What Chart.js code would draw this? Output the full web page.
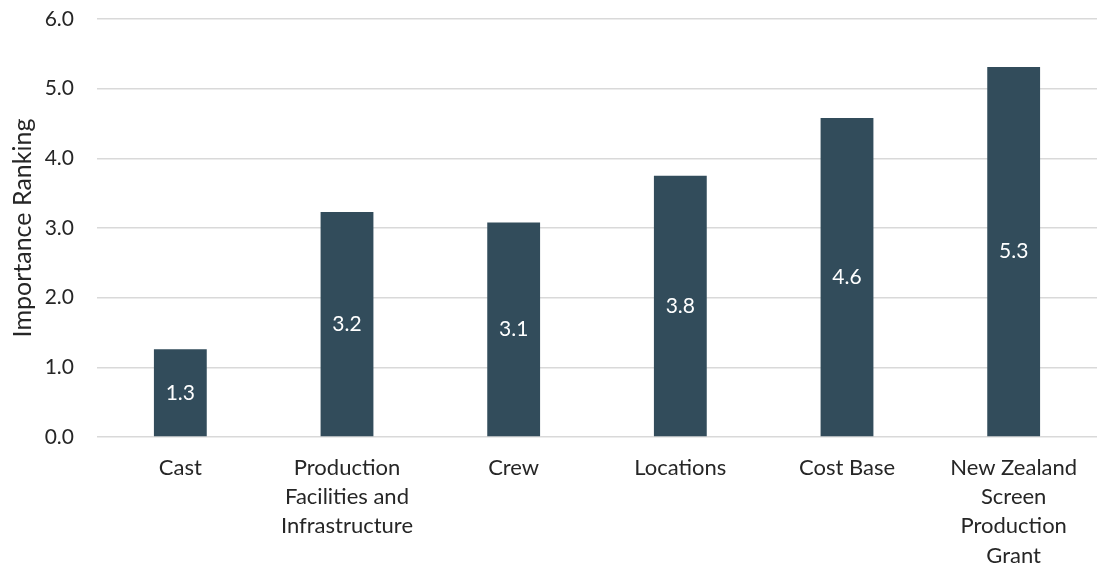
<!DOCTYPE html>
<html>
<head>
<meta charset="utf-8">
<script src="https://cdn.jsdelivr.net/npm/chart.js@4.4.1/dist/chart.umd.min.js"></script>
<style>
    html, body { margin: 0; padding: 0; background: #fff; }
    #wrap { width: 1097px; height: 567px; position: relative; }
</style>
</head>
<body>
<div id="wrap"><canvas id="rankChart"></canvas></div>
<script>
// Importance ranking of factors
const categories = [
    ['Cast'],
    ['Production', 'Facilities and', 'Infrastructure'],
    ['Crew'],
    ['Locations'],
    ['Cost Base'],
    ['New Zealand', 'Screen', 'Production', 'Grant']
];
const rankings = [1.26, 3.23, 3.08, 3.75, 4.58, 5.31];
const yTicks = [0, 1, 2, 3, 4, 5, 6];

const barColor = '#324c5b';
const textColor = '#262626';
const fontFamily = 'Lato, "Open Sans", sans-serif';

// draw the value inside each bar, centred
const barValueLabels = {
    id: 'barValueLabels',
    afterDatasetsDraw(chart) {
        const ctx = chart.ctx;
        const meta = chart.getDatasetMeta(0);
        ctx.save();
        ctx.fillStyle = '#ffffff';
        ctx.font = '21px ' + fontFamily;
        ctx.textAlign = 'center';
        ctx.textBaseline = 'middle';
        meta.data.forEach((bar, i) => {
            const y = (bar.y + bar.base) / 2;
            ctx.fillText(rankings[i].toFixed(1), bar.x, y);
        });
        ctx.restore();
    }
};

new Chart(document.getElementById('rankChart'), {
    type: 'bar',
    data: {
        labels: categories,
        datasets: [{
            data: rankings,
            backgroundColor: barColor,
            borderWidth: 0,
            barPercentage: 1,
            categoryPercentage: 0.317
        }]
    },
    options: {
        responsive: true,
        maintainAspectRatio: false,
        animation: false,
        layout: { padding: { top: 19, right: 0, bottom: 0, left: 0 } },
        plugins: {
            legend: { display: false },
            tooltip: { enabled: false }
        },
        scales: {
            x: {
                grid: { display: false, drawTicks: false },
                border: { display: false },
                ticks: {
                    color: textColor,
                    font: { family: fontFamily, size: 22, lineHeight: 1.33 },
                    padding: 16,
                    maxRotation: 0,
                    autoSkip: false
                },
                afterFit(axis) { axis.height = 130; }
            },
            y: {
                min: 0,
                max: 6,
                afterBuildTicks(axis) {
                    axis.ticks = yTicks.map(v => ({ value: v }));
                },
                grid: { color: '#d9d9d9', lineWidth: 1.5, drawTicks: false },
                border: { display: false },
                ticks: {
                    color: textColor,
                    font: { family: fontFamily, size: 21 },
                    padding: 23,
                    callback: v => v.toFixed(1)
                },
                title: {
                    display: true,
                    text: 'Importance Ranking',
                    color: textColor,
                    font: { family: fontFamily, size: 25 },
                    padding: { top: 8, bottom: 4 }
                },
                afterFit(axis) {
                    axis.width = 97;
                    axis.paddingTop = 0;
                    axis.paddingBottom = 0;
                }
            }
        }
    },
    plugins: [barValueLabels]
});
</script>
</body>
</html>
